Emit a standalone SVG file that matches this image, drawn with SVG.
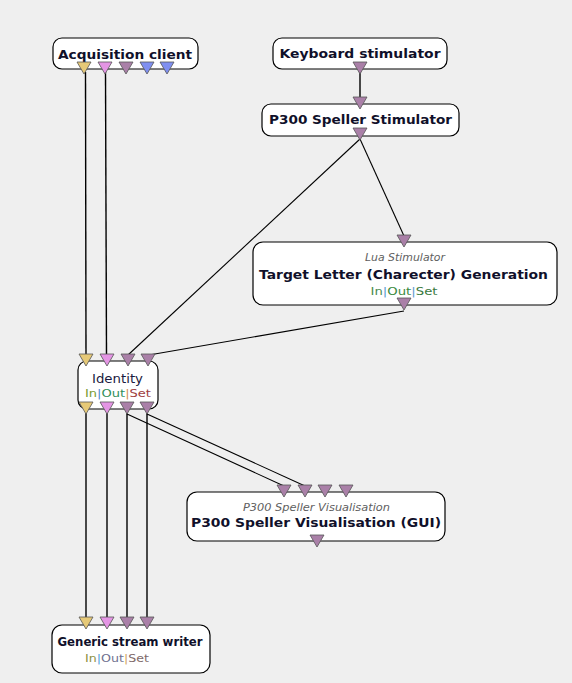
<svg xmlns="http://www.w3.org/2000/svg" width="572" height="683" viewBox="0 0 572 683">
<defs>
<style>
.box{fill:#ffffff;stroke:#000000;stroke-width:1.2}
.title{font-family:"DejaVu Sans","Liberation Sans",sans-serif;font-weight:bold;font-size:13px;fill:#10102a;text-anchor:middle}
.plain{font-family:"DejaVu Sans","Liberation Sans",sans-serif;font-size:12.5px;fill:#1a1a40;text-anchor:middle}
.sub{font-family:"DejaVu Sans","Liberation Sans",sans-serif;font-style:italic;font-size:10px;fill:#606060;text-anchor:middle}
.ios{font-family:"DejaVu Sans","Liberation Sans",sans-serif;font-size:11px;text-anchor:middle}
.conn line{stroke:#000000;stroke-width:1.1}
.conn line.v{stroke-width:1.4}
.y{fill:#e6c977}.p{fill:#e495e4}.m{fill:#aa80a8}.b{fill:#7f8ff0}
.port{stroke:#555555;stroke-width:0.8}
</style>
<path id="tri" d="M-7,0 H7 L0,12 Z"/>
</defs>
<rect x="0" y="0" width="572" height="683" fill="#efefef"/>

<g id="connectors" class="conn">
<line class="v" x1="85.5" y1="72" x2="86" y2="355"/>
<line class="v" x1="105.5" y1="72" x2="106.5" y2="355"/>
<line class="v" x1="360" y1="72" x2="360" y2="98"/>
<line x1="360" y1="139" x2="404" y2="236"/>
<line x1="360" y1="139" x2="128" y2="355"/>
<line x1="404" y1="311" x2="149" y2="355"/>
<line class="v" x1="86" y1="413" x2="86" y2="618"/>
<line class="v" x1="107" y1="413" x2="107" y2="618"/>
<line class="v" x1="127" y1="413" x2="127" y2="618"/>
<line class="v" x1="147" y1="413" x2="147" y2="618"/>
<line x1="127" y1="414" x2="284" y2="486"/>
<line x1="147" y1="414" x2="305" y2="486"/>
</g>

<g id="acquisition-client">
<rect class="box" x="53" y="38" width="145" height="31" rx="9"/>
<text class="title" x="125" y="59" textLength="134" lengthAdjust="spacingAndGlyphs">Acquisition client</text>
<use href="#tri" x="84" y="62" class="port y"/>
<use href="#tri" x="105" y="62" class="port p"/>
<use href="#tri" x="126" y="62" class="port m"/>
<use href="#tri" x="147" y="62" class="port b"/>
<use href="#tri" x="167" y="62" class="port b"/>
</g>

<g id="keyboard-stimulator">
<rect class="box" x="273" y="38" width="174" height="31" rx="9"/>
<text class="title" x="360" y="58" textLength="161" lengthAdjust="spacingAndGlyphs">Keyboard stimulator</text>
<use href="#tri" x="360" y="62" class="port m"/>
</g>

<g id="p300-speller-stimulator">
<rect class="box" x="262" y="104" width="197" height="32" rx="9"/>
<text class="title" x="360.5" y="124" textLength="183" lengthAdjust="spacingAndGlyphs">P300 Speller Stimulator</text>
<use href="#tri" x="360" y="97" class="port m"/>
<use href="#tri" x="360" y="128" class="port m"/>
</g>

<g id="target-letter-generation">
<rect class="box" x="253" y="242" width="304" height="63" rx="10"/>
<text class="sub" x="405" y="261" textLength="80" lengthAdjust="spacingAndGlyphs">Lua Stimulator</text>
<text class="title" x="403.5" y="279" font-size="14" textLength="289" lengthAdjust="spacingAndGlyphs">Target Letter (Charecter) Generation</text>
<text class="ios" x="404" y="295" textLength="67" lengthAdjust="spacingAndGlyphs"><tspan fill="#4a8a50">In</tspan><tspan fill="#5a9ad0">|</tspan><tspan fill="#3a8a40">Out</tspan><tspan fill="#5a9ad0">|</tspan><tspan fill="#3a7a40">Set</tspan></text>
<use href="#tri" x="404" y="235" class="port m"/>
<use href="#tri" x="404" y="298" class="port m"/>
</g>

<g id="identity">
<rect class="box" x="78" y="361" width="80" height="48" rx="9"/>
<text class="plain" x="117.5" y="383" textLength="51" lengthAdjust="spacingAndGlyphs">Identity</text>
<text class="ios" x="118" y="397" textLength="66" lengthAdjust="spacingAndGlyphs"><tspan fill="#7a9a30">In</tspan><tspan fill="#4a8ad0">|</tspan><tspan fill="#30905a">Out</tspan><tspan fill="#d09050">|</tspan><tspan fill="#a04040">Set</tspan></text>
<use href="#tri" x="86" y="354" class="port y"/>
<use href="#tri" x="107" y="354" class="port p"/>
<use href="#tri" x="128" y="354" class="port m"/>
<use href="#tri" x="148" y="354" class="port m"/>
<use href="#tri" x="86" y="402" class="port y"/>
<use href="#tri" x="107" y="402" class="port p"/>
<use href="#tri" x="127" y="402" class="port m"/>
<use href="#tri" x="147" y="402" class="port m"/>
</g>

<g id="p300-speller-visualisation">
<rect class="box" x="187" y="492" width="258" height="49" rx="10"/>
<text class="sub" x="316.5" y="511" textLength="147" lengthAdjust="spacingAndGlyphs">P300 Speller Visualisation</text>
<text class="title" x="316" y="527" font-size="14" textLength="250" lengthAdjust="spacingAndGlyphs">P300 Speller Visualisation (GUI)</text>
<use href="#tri" x="284" y="485" class="port m"/>
<use href="#tri" x="305" y="485" class="port m"/>
<use href="#tri" x="325" y="485" class="port m"/>
<use href="#tri" x="346" y="485" class="port m"/>
<use href="#tri" x="317" y="535" class="port m"/>
</g>

<g id="generic-stream-writer">
<rect class="box" x="52" y="625" width="158" height="48" rx="10"/>
<text class="title" x="130" y="646" font-size="14" textLength="145" lengthAdjust="spacingAndGlyphs">Generic stream writer</text>
<text class="ios" x="117" y="662" textLength="64" lengthAdjust="spacingAndGlyphs"><tspan fill="#8c9040">In</tspan><tspan fill="#50a0e0">|</tspan><tspan fill="#707090">Out</tspan><tspan fill="#d0a060">|</tspan><tspan fill="#806a6a">Set</tspan></text>
<use href="#tri" x="86" y="617" class="port y"/>
<use href="#tri" x="107" y="617" class="port p"/>
<use href="#tri" x="127" y="617" class="port m"/>
<use href="#tri" x="147" y="617" class="port m"/>
</g>
</svg>
